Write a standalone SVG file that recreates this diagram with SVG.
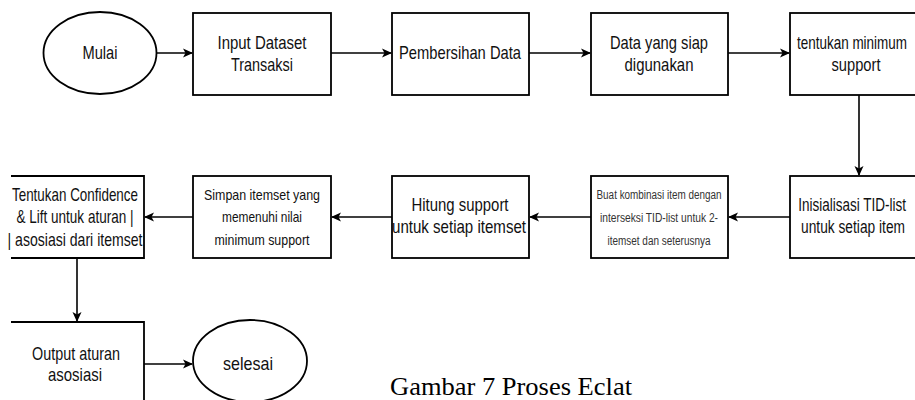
<svg xmlns="http://www.w3.org/2000/svg" width="915" height="400" viewBox="0 0 915 400">
<style>
.box{fill:#fff;stroke:#000;stroke-width:1.8}
.t{font-family:"Liberation Sans",Arial,sans-serif;font-size:18.5px;text-anchor:middle;fill:#111}
.s{font-size:14.5px}
.xs{font-size:12.5px;fill:#333}
.c{stroke:#000;stroke-width:1.6;fill:none}
.cap{font-family:"Liberation Serif","Times New Roman",serif;font-size:25px;fill:#000}
</style>
<defs>
<marker id="ah" viewBox="0 0 10 10" refX="9" refY="5" markerWidth="10" markerHeight="10" markerUnits="userSpaceOnUse" orient="auto">
<path d="M0,0.5 L10,5 L0,9.5 L2.5,5 z" fill="#000"/>
</marker>
</defs>
<rect width="915" height="400" fill="#fff"/>
<g id="connectors">
<line class="c" x1="157" y1="53" x2="192" y2="53" marker-end="url(#ah)"/>
<line class="c" x1="331" y1="53" x2="391" y2="53" marker-end="url(#ah)"/>
<line class="c" x1="529" y1="53" x2="590" y2="53" marker-end="url(#ah)"/>
<line class="c" x1="728" y1="53" x2="789" y2="53" marker-end="url(#ah)"/>
<line class="c" x1="859" y1="95" x2="859" y2="175" marker-end="url(#ah)"/>
<line class="c" x1="790" y1="217" x2="729" y2="217" marker-end="url(#ah)"/>
<line class="c" x1="591" y1="217" x2="530" y2="217" marker-end="url(#ah)"/>
<line class="c" x1="392" y1="217" x2="332" y2="217" marker-end="url(#ah)"/>
<line class="c" x1="193" y1="217" x2="145" y2="217" marker-end="url(#ah)"/>
<line class="c" x1="77" y1="258" x2="77" y2="321" marker-end="url(#ah)"/>
<line class="c" x1="144" y1="364" x2="192" y2="364" marker-end="url(#ah)"/>
</g>
<g id="mulai">
<ellipse class="box" cx="100" cy="53" rx="56.5" ry="41"/>
<text class="t" x="100" y="59" textLength="35" lengthAdjust="spacingAndGlyphs">Mulai</text>
</g>
<g id="input">
<rect class="box" x="193" y="13" width="138" height="82"/>
<text class="t" x="262" y="49" textLength="89" lengthAdjust="spacingAndGlyphs">Input Dataset</text>
<text class="t" x="262" y="71" textLength="62" lengthAdjust="spacingAndGlyphs">Transaksi</text>
</g>
<g id="pembersihan">
<rect class="box" x="392" y="13" width="137" height="82"/>
<text class="t" x="460" y="59" textLength="122" lengthAdjust="spacingAndGlyphs">Pembersihan Data</text>
</g>
<g id="data-siap">
<rect class="box" x="591" y="13" width="137" height="82"/>
<text class="t" x="659" y="49" textLength="98" lengthAdjust="spacingAndGlyphs">Data yang siap</text>
<text class="t" x="659" y="71" textLength="69" lengthAdjust="spacingAndGlyphs">digunakan</text>
</g>
<g id="min-support">
<rect class="box" x="790" y="13" width="138" height="82"/>
<text class="t" transform="translate(852,49) scale(0.728,1)">tentukan minimum</text>
<text class="t" x="856" y="71" textLength="49" lengthAdjust="spacingAndGlyphs">support</text>
</g>
<g id="inisialisasi">
<rect class="box" x="790" y="176" width="138" height="82"/>
<text class="t" transform="translate(852,211) scale(0.73,1)">Inisialisasi TID-list</text>
<text class="t" transform="translate(853,233) scale(0.744,1)">untuk setiap item</text>
</g>
<g id="kombinasi">
<rect class="box" x="591" y="176" width="137" height="82"/>
<text class="t xs" x="659" y="199" textLength="125" lengthAdjust="spacingAndGlyphs">Buat kombinasi item dengan</text>
<text class="t xs" x="659" y="222" textLength="118" lengthAdjust="spacingAndGlyphs">interseksi  TID-list untuk 2-</text>
<text class="t xs" x="659" y="245" textLength="103" lengthAdjust="spacingAndGlyphs">itemset dan seterusnya</text>
</g>
<g id="hitung">
<rect class="box" x="392" y="176" width="137" height="82"/>
<text class="t" x="460" y="211" textLength="97" lengthAdjust="spacingAndGlyphs">Hitung support</text>
<text class="t" x="459" y="233" textLength="134" lengthAdjust="spacingAndGlyphs">untuk setiap itemset</text>
</g>
<g id="simpan">
<rect class="box" x="193" y="176" width="138" height="82"/>
<text class="t s" x="262" y="200" textLength="116" lengthAdjust="spacingAndGlyphs">Simpan itemset yang</text>
<text class="t s" x="262" y="222" textLength="80" lengthAdjust="spacingAndGlyphs">memenuhi nilai</text>
<text class="t s" x="262" y="245" textLength="95" lengthAdjust="spacingAndGlyphs">minimum support</text>
</g>
<g id="confidence">
<path class="box" d="M11,176 H144 V258 H11"/>
<text class="t" x="75" y="201" textLength="126" lengthAdjust="spacingAndGlyphs">Tentukan Confidence</text>
<text class="t" x="75" y="223" textLength="117" lengthAdjust="spacingAndGlyphs">&amp; Lift untuk aturan |</text>
<text class="t" x="75" y="246" textLength="135" lengthAdjust="spacingAndGlyphs">| asosiasi dari itemset</text>
</g>
<g id="output">
<path class="box" d="M11,322 H144 V402"/>
<text class="t" x="76" y="360" textLength="88" lengthAdjust="spacingAndGlyphs">Output aturan</text>
<text class="t" x="75" y="381" textLength="54" lengthAdjust="spacingAndGlyphs">asosiasi</text>
</g>
<g id="selesai">
<ellipse class="box" cx="250" cy="361" rx="57" ry="41"/>
<text class="t" x="248" y="370" textLength="50" lengthAdjust="spacingAndGlyphs">selesai</text>
</g>
<text class="cap" x="390" y="395" textLength="242" lengthAdjust="spacingAndGlyphs">Gambar 7 Proses Eclat</text>
</svg>
